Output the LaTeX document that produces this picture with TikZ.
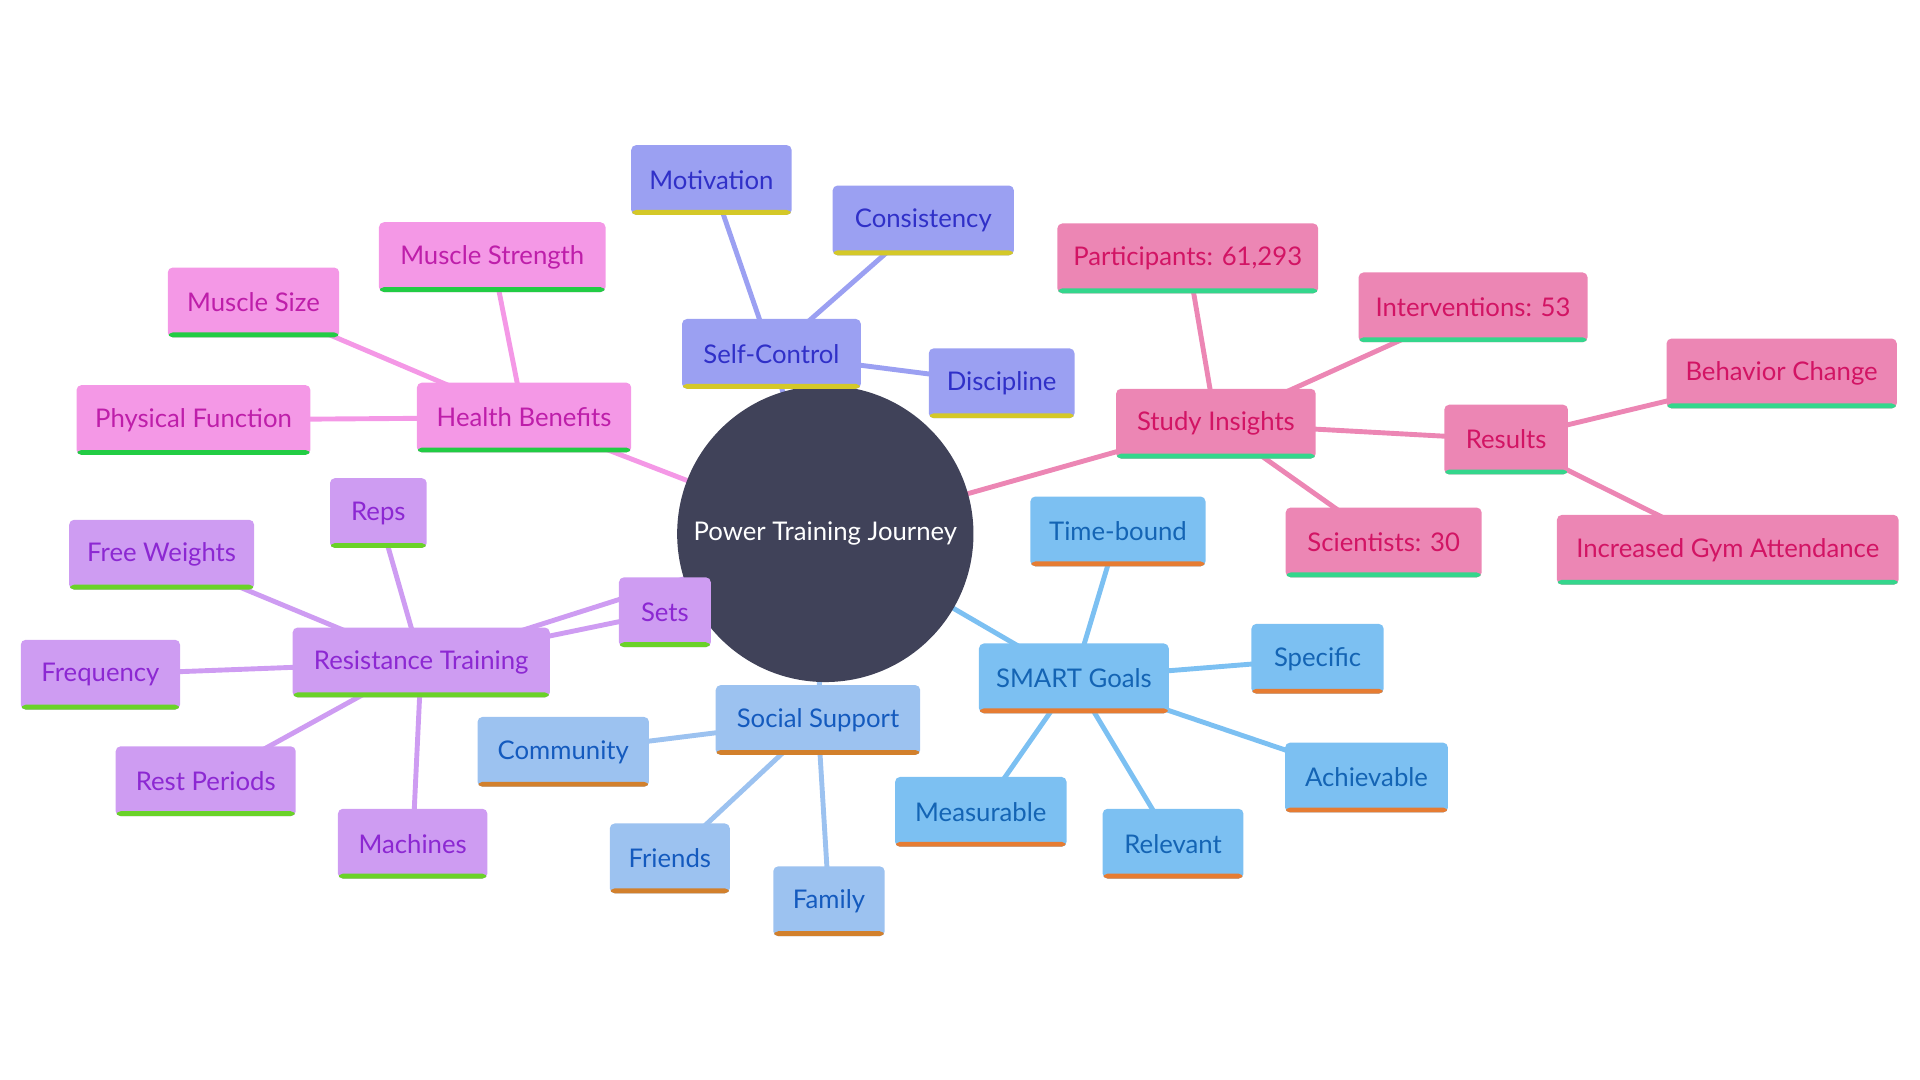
\documentclass[tikz,border=0pt]{standalone}
\usepackage{fontspec}
\setmainfont{Lato}
\usetikzlibrary{backgrounds}
\definecolor{ctr}{RGB}{64,66,89}
\definecolor{scF}{RGB}{155,160,242}\definecolor{scT}{RGB}{48,48,200}\definecolor{scB}{RGB}{212,200,40}
\definecolor{hbF}{RGB}{244,152,230}\definecolor{hbT}{RGB}{190,30,170}\definecolor{hbB}{RGB}{34,204,68}
\definecolor{siF}{RGB}{236,134,180}\definecolor{siT}{RGB}{210,20,100}\definecolor{siB}{RGB}{52,214,140}
\definecolor{sgF}{RGB}{124,192,242}\definecolor{sgT}{RGB}{20,100,180}\definecolor{sgB}{RGB}{230,124,50}
\definecolor{ssF}{RGB}{156,194,240}\definecolor{ssT}{RGB}{20,90,190}\definecolor{ssB}{RGB}{210,128,44}
\definecolor{rtF}{RGB}{206,156,242}\definecolor{rtT}{RGB}{140,40,210}\definecolor{rtB}{RGB}{106,210,40}
\tikzset{
  bw/.style={minimum width=#1*0.5pt},
  box/.style={rectangle, rounded corners=2pt, fill=#1F, text=#1T,
    minimum height=28.5pt, inner sep=0pt, font=\fontsize{10.5}{12}\selectfont,
    path picture={\fill[#1B] ([yshift=-1pt]path picture bounding box.south west) rectangle ([yshift=2pt]path picture bounding box.south east);}},
  sc/.style={box=sc}, hb/.style={box=hb}, si/.style={box=si},
  sg/.style={box=sg}, ss/.style={box=ss}, rt/.style={box=rt},
  ln/.style={line width=2pt, draw=#1F},
}
\begin{document}
\begin{tikzpicture}[x=0.5pt,y=-0.5pt]
\useasboundingbox (0,0) rectangle (1568,882);
% center
\node[circle, fill=ctr, text=white, minimum size=242*0.5pt, inner sep=0pt, font=\fontsize{10.5}{12}\selectfont] (c) at (674,436) {Power Training Journey};
% Self-Control
\node[sc,bw=146] (sc) at (630,289) {Self-Control};
\node[sc,bw=131] (mot) at (581,147) {Motivation};
\node[sc,bw=148] (con) at (754,180) {Consistency};
\node[sc,bw=119] (dis) at (818,313) {Discipline};
% Health Benefits
\node[hb,bw=175] (hb) at (428,341) {Health Benefits};
\node[hb,bw=185] (ms) at (402,210) {Muscle Strength};
\node[hb,bw=140] (msz) at (207,247) {Muscle Size};
\node[hb,bw=191] (pf) at (158,343) {Physical Function};
% Study Insights
\node[si,bw=163] (si) at (993,346) {Study Insights};
\node[si,bw=213] (par) at (970,211) {Participants: 61,293};
\node[si,bw=187] (int) at (1203,251) {Interventions: 53};
\node[si,bw=101] (res) at (1230,359) {Results};
\node[si,bw=188] (bc) at (1455,305) {Behavior Change};
\node[si,bw=279] (iga) at (1411,449) {Increased Gym Attendance};
\node[si,bw=160] (sci) at (1130,443) {Scientists: 30};
% SMART Goals
\node[sg,bw=155] (sg) at (877,554) {SMART Goals};
\node[sg,bw=143] (tb) at (913,434) {Time-bound};
\node[sg,bw=108] (spe) at (1076,538) {Specific};
\node[sg,bw=133] (ach) at (1116,635) {Achievable};
\node[sg,bw=115] (rel) at (958,689) {Relevant};
\node[sg,bw=140] (mea) at (801,663) {Measurable};
% Social Support
\node[ss,bw=167] (ss) at (668,588) {Social Support};
\node[ss,bw=140] (com) at (460,614) {Community};
\node[ss,bw=98] (fri) at (547,701) {Friends};
\node[ss,bw=91] (fam) at (677,736) {Family};
% Resistance Training
\node[rt,bw=210] (rt) at (344,541) {Resistance Training};
\node[rt,bw=75] (sets) at (543,500) {Sets};
\node[rt,bw=79] (reps) at (309,419) {Reps};
\node[rt,bw=151] (fw) at (132,453) {Free Weights};
\node[rt,bw=130] (freq) at (82,551) {Frequency};
\node[rt,bw=147] (rp) at (168,638) {Rest Periods};
\node[rt,bw=122] (mach) at (337,689) {Machines};
\begin{pgfonlayer}{background}
\draw[ln=hb] (c.center) -- (hb.center);
\draw[ln=sc] (c.center) -- (sc.center);
\draw[ln=si] (c.center) -- (si.center);
\draw[ln=sg] (c.center) -- (sg.center);
\draw[ln=ss] (c.center) -- (ss.center);
\draw[ln=rt] (c.center) -- (rt.center);
\foreach \n in {mot,con,dis} \draw[ln=sc] (sc.center) -- (\n.center);
\foreach \n in {ms,msz,pf} \draw[ln=hb] (hb.center) -- (\n.center);
\foreach \n in {par,int,sci,res} \draw[ln=si] (si.center) -- (\n.center);
\foreach \n in {bc,iga} \draw[ln=si] (res.center) -- (\n.center);
\foreach \n in {tb,spe,ach,rel,mea} \draw[ln=sg] (sg.center) -- (\n.center);
\foreach \n in {com,fri,fam} \draw[ln=ss] (ss.center) -- (\n.center);
\foreach \n in {sets,reps,fw,freq,rp,mach} \draw[ln=rt] (rt.center) -- (\n.center);
\end{pgfonlayer}
\end{tikzpicture}
\end{document}
